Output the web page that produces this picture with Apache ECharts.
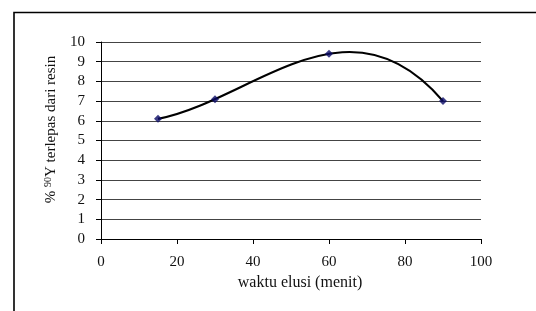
<!DOCTYPE html>
<html>
<head>
<meta charset="utf-8">
<script src="https://cdn.jsdelivr.net/npm/echarts@6/dist/echarts.min.js"></script>
<style>
  html, body { margin: 0; padding: 0; background: #fff; }
  #chart { width: 536px; height: 311px; }
</style>
</head>
<body>
<div id="chart"></div>
<script>
// data
const waktu = [15, 30, 60, 90];
const persen = [6.1, 7.1, 9.4, 7.0];
const xTicks = [0, 20, 40, 60, 80, 100];
const yTicks = [0, 1, 2, 3, 4, 5, 6, 7, 8, 9, 10];

const font = "'Liberation Serif', 'Times New Roman', serif";

const chart = echarts.init(document.getElementById("chart"), null, { renderer: "canvas" });

// curve through the points (cubic, like the spreadsheet trendline), drawn in pixel space
function renderCurve(params, api) {
  if (params.dataIndex !== 0) return null;
  const p = waktu.map((w, i) => api.coord([w, persen[i]]));
  const x = p.map((q) => q[0]);
  const y = p.map((q) => q[1]);
  // newton divided differences
  const d01 = (y[1] - y[0]) / (x[1] - x[0]);
  const d12 = (y[2] - y[1]) / (x[2] - x[1]);
  const d23 = (y[3] - y[2]) / (x[3] - x[2]);
  const d012 = (d12 - d01) / (x[2] - x[0]);
  const d123 = (d23 - d12) / (x[3] - x[1]);
  const a3 = (d123 - d012) / (x[3] - x[0]);
  const slope = (t) =>
    d01 + d012 * ((t - x[0]) + (t - x[1])) +
    a3 * ((t - x[1]) * (t - x[2]) + (t - x[0]) * (t - x[2]) + (t - x[0]) * (t - x[1]));
  const h = x[3] - x[0];
  return {
    type: "bezierCurve",
    shape: {
      x1: x[0], y1: y[0],
      x2: x[3], y2: y[3],
      cpx1: x[0] + h / 3, cpy1: y[0] + slope(x[0]) * h / 3,
      cpx2: x[3] - h / 3, cpy2: y[3] - slope(x[3]) * h / 3
    },
    style: { stroke: "#000", lineWidth: 2.2, fill: null }
  };
}

const option = {
  backgroundColor: "#fff",
  animation: false,
  grid: { left: 101, right: 55, top: 42, bottom: 72 },
  xAxis: {
    type: "value",
    min: xTicks[0],
    max: xTicks[xTicks.length - 1],
    interval: 20,
    name: "waktu elusi (menit)",
    nameLocation: "middle",
    nameGap: 31,
    nameTextStyle: { fontFamily: font, fontSize: 16, color: "#111", padding: [0, 0, 0, 18] },
    axisLine: { lineStyle: { color: "#000", width: 1 } },
    axisTick: { show: true, length: 5, inside: false, lineStyle: { color: "#000" } },
    axisLabel: { fontFamily: font, fontSize: 15, color: "#111", margin: 16 },
    splitLine: { show: false }
  },
  yAxis: {
    type: "value",
    min: yTicks[0],
    max: yTicks[yTicks.length - 1],
    interval: 1,
    name: "% {sup|90}Y terlepas dari resin",
    nameLocation: "middle",
    nameGap: 42,
    nameRotate: 90,
    nameTextStyle: {
      fontFamily: font, fontSize: 15, color: "#111",
      padding: [0, 0, 0, 22],
      rich: { sup: { fontFamily: font, fontSize: 10, color: "#111", verticalAlign: "top", padding: [0, 0, 6, 0] } }
    },
    axisLine: { show: true, lineStyle: { color: "#000", width: 1 } },
    axisTick: { show: true, length: 5, lineStyle: { color: "#000" } },
    axisLabel: { fontFamily: font, fontSize: 15, color: "#111", margin: 16 },
    splitLine: { show: true, lineStyle: { color: "#444", width: 1 } }
  },
  series: [
    {
      type: "custom",
      renderItem: renderCurve,
      data: waktu.map((w, i) => [w, persen[i]]),
      z: 2
    },
    {
      type: "scatter",
      data: waktu.map((w, i) => [w, persen[i]]),
      symbol: "diamond",
      symbolSize: 8,
      itemStyle: { color: "#0a0a66" },
      z: 3
    }
  ],
  graphic: [
    {
      type: "polyline",
      shape: { points: [[14, 311], [14, 12.5], [536, 12.5]] },
      style: { stroke: "#000", lineWidth: 1.6, fill: null }
    }
  ]
};

chart.setOption(option);
</script>
</body>
</html>
